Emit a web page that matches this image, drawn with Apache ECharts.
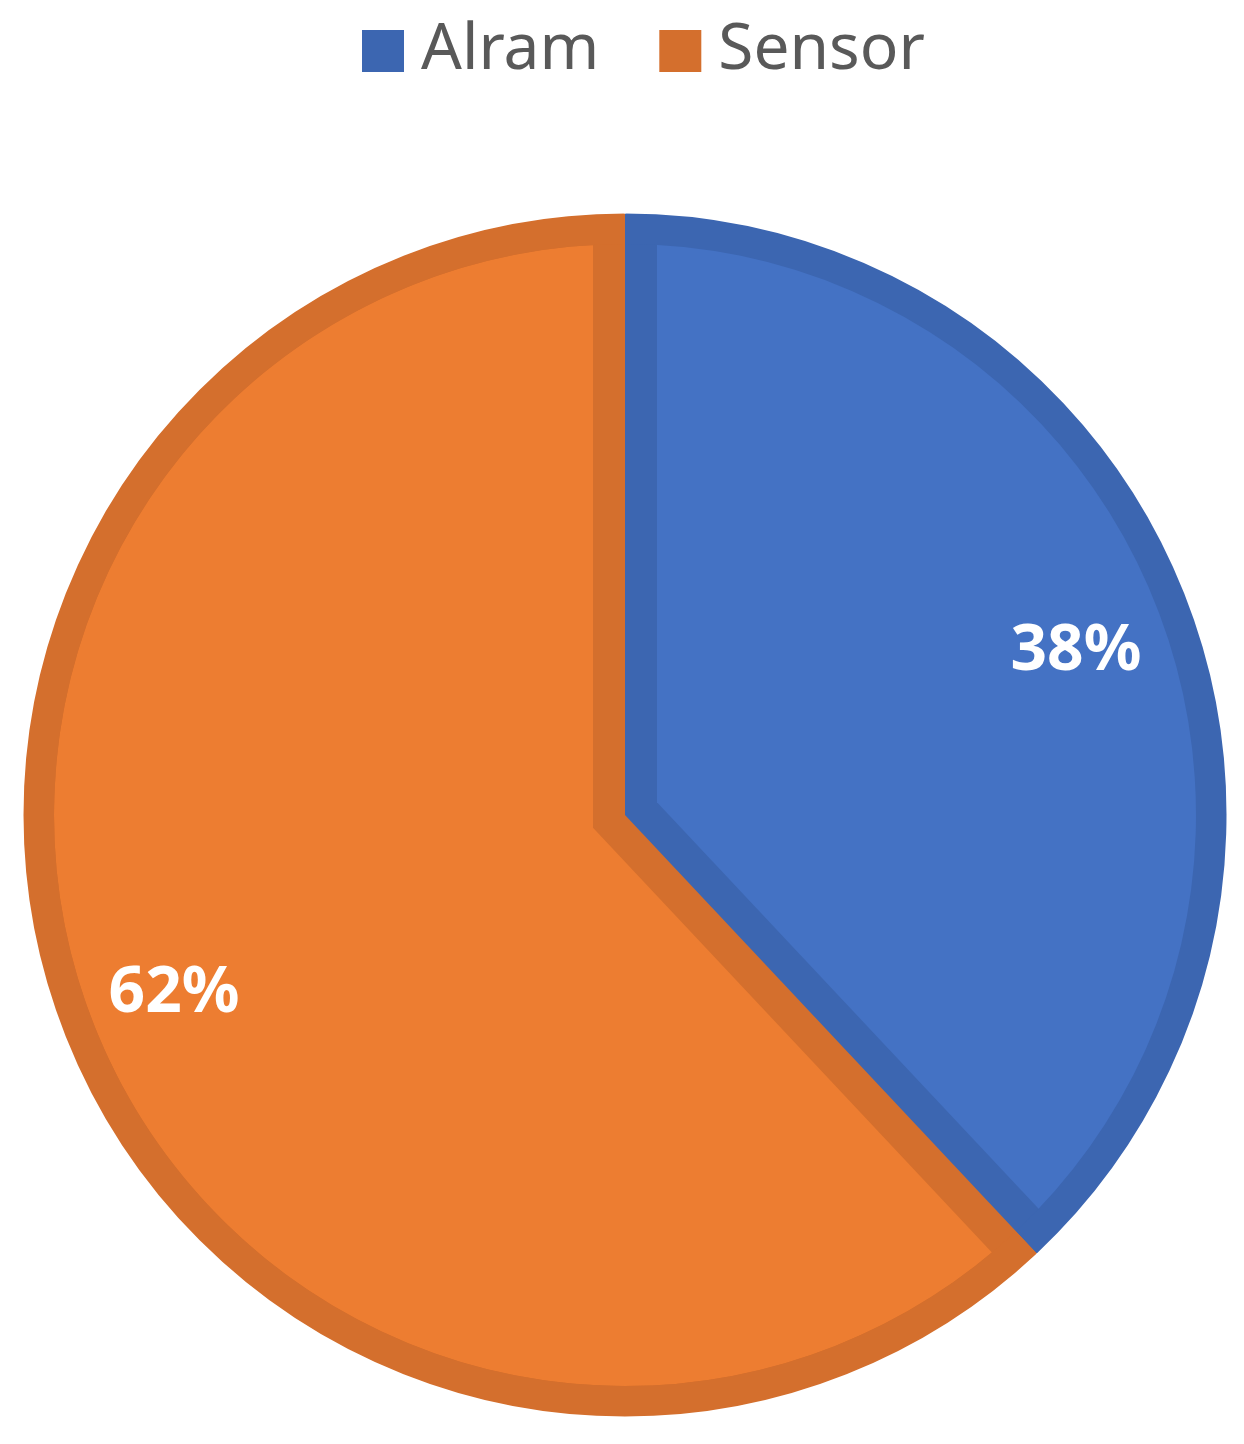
<!DOCTYPE html>
<html>
<head>
<meta charset="utf-8">
<script src="https://cdn.jsdelivr.net/npm/echarts@6/dist/echarts.min.js"></script>
<style>
  html, body { margin: 0; padding: 0; background: #fff; }
  #main { width: 1244px; height: 1444px; }
</style>
</head>
<body>
<div id="main"></div>
<script>
// data
var names = ['Alram', 'Sensor'];
var values = [38, 62];
var fillColors = ['#4472C4', '#ED7D31'];
var edgeColors = ['#3C66B1', '#D46F2D'];

var chart = echarts.init(document.getElementById('main'));

// pie geometry
var cx = 625, cy = 815;
var R = 603;      // outer radius, including the border
var bw = 32;      // border thickness, drawn inside each slice

// blue slice is inset by shifting its apex along its bisector
var total = values[0] + values[1];
var half = values[0] / total * Math.PI;           // half the slice angle
var shift = bw / Math.sin(half);
var insetCenter = [cx + shift * Math.sin(half), cy - shift * Math.cos(half)];
var lo = -shift * Math.cos(half) + Math.sqrt((R - bw) * (R - bw) - shift * shift * Math.sin(half) * Math.sin(half));
var hi = R - shift;
var insetR = (lo + hi) / 2;

function items(styleFn) {
    return names.map(function (n, i) {
        return { name: n, value: values[i], itemStyle: styleFn(i) };
    });
}
var hidden = { color: 'transparent', borderWidth: 0 };
var noLabel = { label: { show: false }, labelLine: { show: false } };

chart.setOption({
    animation: false,
    legend: {
        top: 14,
        left: 357,
        icon: 'rect',
        itemWidth: 42,
        itemHeight: 42,
        itemGap: 60,
        data: names,
        textStyle: {
            fontFamily: 'Noto Sans',
            fontSize: 64,
            color: '#595959',
            padding: [0, 0, 0, 12]
        }
    },
    series: [
        Object.assign({
            // outer ring, also gives the legend its colours
            type: 'pie', z: 6, silent: true,
            center: [cx, cy], radius: [R - bw, R],
            data: items(function (i) { return { color: edgeColors[i], borderWidth: 0 }; })
        }, noLabel),
        Object.assign({
            // orange slice; its stroke makes the inner border
            type: 'pie', z: 2, silent: true,
            center: [cx, cy], radius: R,
            data: items(function (i) {
                return i === 1 ? {
                    color: fillColors[1], borderColor: edgeColors[1], borderWidth: bw * 2,
                    borderJoin: 'miter', borderMiterLimit: 10
                } : hidden;
            })
        }, noLabel),
        Object.assign({
            // white ring hides the half of the stroke outside the pie
            type: 'pie', z: 8, silent: true,
            center: [cx, cy], radius: [R, R + bw * 2],
            data: items(function () { return { color: '#fff', borderColor: '#fff', borderWidth: 3 }; })
        }, noLabel),
        Object.assign({
            // blue slice, dark base
            type: 'pie', z: 3, silent: true,
            center: [cx, cy], radius: R,
            data: items(function (i) { return i === 0 ? { color: edgeColors[0], borderWidth: 0 } : hidden; })
        }, noLabel),
        Object.assign({
            // blue slice, inset fill
            type: 'pie', z: 4, silent: true,
            center: insetCenter, radius: insetR,
            data: items(function (i) { return i === 0 ? { color: fillColors[0], borderWidth: 0 } : hidden; })
        }, noLabel),
        {
            // percentage labels
            type: 'pie', z: 7, silent: true,
            center: [cx, cy], radius: [400, 564],
            avoidLabelOverlap: false,
            labelLine: { show: false },
            label: {
                show: true,
                position: 'inside',
                rotate: 0,
                color: '#fff',
                fontFamily: 'Noto Sans',
                fontWeight: 'bold',
                fontSize: 64,
                formatter: function (p) { return Math.round(p.percent) + '%'; }
            },
            data: items(function () { return hidden; }).map(function (d, i) {
                if (i === 0) d.label = { offset: [0, 15] };
                return d;
            })
        }
    ]
});
</script>
</body>
</html>
